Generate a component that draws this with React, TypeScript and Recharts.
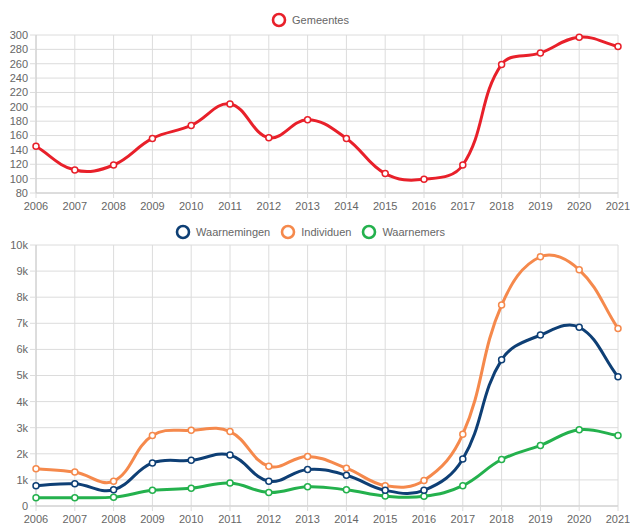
import React from 'react';
import { LineChart, Line, XAxis, YAxis, CartesianGrid, Legend } from 'recharts';

const years = ['2006','2007','2008','2009','2010','2011','2012','2013','2014','2015','2016','2017','2018','2019','2020','2021'];
const gemeentes = [145, 112, 119, 156, 174, 204, 157, 182, 156, 107, 99, 119, 259, 275, 297, 284];
const waarnemingen = [780, 850, 620, 1650, 1750, 1950, 950, 1400, 1180, 600, 600, 1800, 5600, 6550, 6850, 4950];
const individuen = [1430, 1300, 950, 2700, 2900, 2850, 1520, 1900, 1450, 780, 980, 2750, 7700, 9550, 9050, 6800];
const waarnemers = [320, 320, 340, 600, 680, 880, 520, 740, 620, 380, 370, 780, 1780, 2320, 2920, 2700];
const topTicks = [80, 100, 120, 140, 160, 180, 200, 220, 240, 260, 280, 300];
const bottomTicks = [0, 1000, 2000, 3000, 4000, 5000, 6000, 7000, 8000, 9000, 10000];

const topData = years.map((y, i) => ({ year: y, Gemeentes: gemeentes[i] }));
const bottomData = years.map((y, i) => ({
  year: y,
  Waarnemingen: waarnemingen[i],
  Individuen: individuen[i],
  Waarnemers: waarnemers[i],
}));

const RED = '#e8202a';
const BLUE = '#0e3f75';
const ORANGE = '#f5894c';
const GREEN = '#24b14d';
const FONT = '"Liberation Sans", Arial, sans-serif';
const GRID = '#dcdcdc';
const TICK = { fontSize: 11, fill: '#666', fontFamily: FONT };

// Chart.js-style spline (tension 0.4) as a custom curve factory
function chartJsCurve(context: any) {
  let pts: [number, number][] = [];
  return {
    areaStart() {},
    areaEnd() {},
    lineStart() { pts = []; },
    point(x: number, y: number) { pts.push([+x, +y]); },
    lineEnd() {
      const n = pts.length;
      if (n === 0) return;
      const t = 0.4;
      const cps: { px: number; py: number; nx: number; ny: number }[] = [];
      for (let i = 0; i < n; i++) {
        const prev = pts[i - 1] || pts[i];
        const cur = pts[i];
        const next = pts[i + 1] || pts[i];
        const d01 = Math.hypot(cur[0] - prev[0], cur[1] - prev[1]);
        const d12 = Math.hypot(next[0] - cur[0], next[1] - cur[1]);
        let s01 = d01 / (d01 + d12);
        let s12 = d12 / (d01 + d12);
        if (isNaN(s01)) s01 = 0;
        if (isNaN(s12)) s12 = 0;
        const fa = t * s01;
        const fb = t * s12;
        cps.push({
          px: cur[0] - fa * (next[0] - prev[0]),
          py: cur[1] - fa * (next[1] - prev[1]),
          nx: cur[0] + fb * (next[0] - prev[0]),
          ny: cur[1] + fb * (next[1] - prev[1]),
        });
      }
      context.moveTo(pts[0][0], pts[0][1]);
      for (let i = 1; i < n; i++) {
        context.bezierCurveTo(cps[i - 1].nx, cps[i - 1].ny, cps[i].px, cps[i].py, pts[i][0], pts[i][1]);
      }
    },
  };
}

const LegendContent = ({ items, height }: { items: { name: string; color: string }[]; height: number }) => (
  <div
    style={{
      height,
      display: 'flex',
      justifyContent: 'center',
      alignItems: 'flex-start',
      paddingTop: 4,
      boxSizing: 'border-box',
      fontFamily: FONT,
      fontSize: 11,
      color: '#666',
    }}
  >
    {items.map((it) => (
      <div key={it.name} style={{ display: 'flex', alignItems: 'center', marginRight: 10 }}>
        <svg width={16} height={16} style={{ marginRight: 5 }}>
          <circle cx={8} cy={8} r={6} fill="none" stroke={it.color} strokeWidth={2.6} />
        </svg>
        <span>{it.name}</span>
      </div>
    ))}
  </div>
);

const fmtK = (v: number) => (v === 0 ? '0' : `${v / 1000}k`);

export default function App() {
  return (
    <div style={{ position: 'absolute', left: 0, top: 0, width: 630, height: 527, background: '#fff' }}>
      <LineChart width={630} height={215} data={topData} margin={{ top: 8, right: 12, left: 0, bottom: 2 }}>
        <CartesianGrid stroke={GRID} vertical horizontal />
        <Legend
          verticalAlign="top"
          wrapperStyle={{ left: 0, width: 630 }}
          content={() => <LegendContent height={27} items={[{ name: 'Gemeentes', color: RED }]} />}
        />
        <XAxis dataKey="year" tick={TICK} tickSize={5} tickMargin={4} height={20} stroke="#ccc" tickLine={{ stroke: GRID }} interval={0} />
        <YAxis
          domain={[80, 300]}
          ticks={topTicks}
          tick={TICK}
          width={36}
          tickSize={6}
          tickMargin={2}
          stroke="#ccc"
          tickLine={{ stroke: GRID }}
          interval={0}
        />
        <Line
          dataKey="Gemeentes"
          type={chartJsCurve as any}
          stroke={RED}
          strokeWidth={3}
          dot={{ r: 3, fill: '#fff', stroke: RED, strokeWidth: 1.5 }}
          isAnimationActive={false}
        />
      </LineChart>
      <LineChart width={630} height={312} data={bottomData} margin={{ top: 5, right: 12, left: 0, bottom: 1 }}>
        <CartesianGrid stroke={GRID} vertical horizontal />
        <Legend
          verticalAlign="top"
          wrapperStyle={{ left: 0, width: 630 }}
          content={() => (
            <LegendContent
              height={25}
              items={[
                { name: 'Waarnemingen', color: BLUE },
                { name: 'Individuen', color: ORANGE },
                { name: 'Waarnemers', color: GREEN },
              ]}
            />
          )}
        />
        <XAxis dataKey="year" tick={TICK} tickSize={5} tickMargin={4} height={20} stroke="#ccc" tickLine={{ stroke: GRID }} interval={0} />
        <YAxis
          domain={[0, 10000]}
          ticks={bottomTicks}
          tickFormatter={fmtK}
          tick={TICK}
          width={36}
          tickSize={6}
          tickMargin={2}
          stroke="#ccc"
          tickLine={{ stroke: GRID }}
          interval={0}
        />
        <Line
          dataKey="Waarnemers"
          type={chartJsCurve as any}
          stroke={GREEN}
          strokeWidth={3}
          dot={{ r: 3, fill: '#fff', stroke: GREEN, strokeWidth: 1.5 }}
          isAnimationActive={false}
        />
        <Line
          dataKey="Individuen"
          type={chartJsCurve as any}
          stroke={ORANGE}
          strokeWidth={3}
          dot={{ r: 3, fill: '#fff', stroke: ORANGE, strokeWidth: 1.5 }}
          isAnimationActive={false}
        />
        <Line
          dataKey="Waarnemingen"
          type={chartJsCurve as any}
          stroke={BLUE}
          strokeWidth={3}
          dot={{ r: 3, fill: '#fff', stroke: BLUE, strokeWidth: 1.5 }}
          isAnimationActive={false}
        />
      </LineChart>
    </div>
  );
}
